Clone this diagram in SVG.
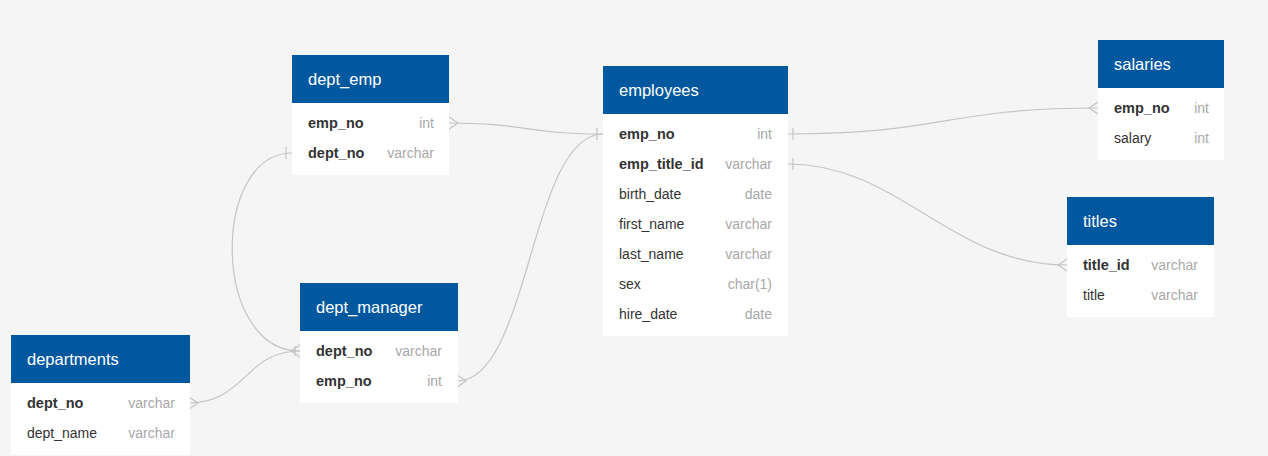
<svg xmlns="http://www.w3.org/2000/svg" width="1268" height="456" viewBox="0 0 1268 456">
<style>
.bg{fill:#f5f5f5}
.hd{fill:#02589e}
.bd{fill:#ffffff}
.tt{font-family:"Liberation Sans",Arial,sans-serif;font-size:16.5px;fill:#ffffff}
.f{font-family:"Liberation Sans",Arial,sans-serif;font-size:14px;fill:#333333}
.k{font-weight:bold;font-size:14.5px}
.ty{font-family:"Liberation Sans",Arial,sans-serif;font-size:14px;fill:#a8a8a8;text-anchor:end}
.c{fill:none;stroke:#c4c4c4;stroke-width:1.2}
</style>
<rect class="bg" x="0" y="0" width="1268" height="456"/>
<g id="connectors">
<path class="c" d="M449,123 C525,123 525,134 603,134"/>
<path class="c" d="M449,117 L458,123 L449,129"/>
<path class="c" d="M597,128 V140"/>
<path class="c" d="M292,153 C211,153 211,351 300,351"/>
<path class="c" d="M286,147 V159"/>
<path class="c" d="M300,345 L291,351 L300,357"/>
<path class="c" d="M295,346 V356"/>
<path class="c" d="M189,403 C245,403 245,351 300,351"/>
<path class="c" d="M189,397 L198,403 L189,409"/>
<path class="c" d="M457,381 C530,381 530,134 603,134"/>
<path class="c" d="M457,375 L466,381 L457,387"/>
<path class="c" d="M788,134 C945,134 945,108 1098,108"/>
<path class="c" d="M793,128 V140"/>
<path class="c" d="M1098,102 L1089,108 L1098,114"/>
<path class="c" d="M788,164 C900,164 950,265 1067,265"/>
<path class="c" d="M793,158 V170"/>
<path class="c" d="M1067,259 L1058,265 L1067,271"/>
</g>
<g id="dept_emp">
<rect class="bd" x="292" y="55" width="157" height="120"/>
<rect class="hd" x="292" y="55" width="157" height="48"/>
<text class="tt" x="308" y="85">dept_emp</text>
<text class="f k" x="308" y="128">emp_no</text><text class="ty" x="434" y="128">int</text>
<text class="f k" x="308" y="158">dept_no</text><text class="ty" x="434" y="158">varchar</text>
</g>
<g id="employees">
<rect class="bd" x="603" y="66" width="185" height="270"/>
<rect class="hd" x="603" y="66" width="185" height="48"/>
<text class="tt" x="619" y="96">employees</text>
<text class="f k" x="619" y="139">emp_no</text><text class="ty" x="772" y="139">int</text>
<text class="f k" x="619" y="169">emp_title_id</text><text class="ty" x="772" y="169">varchar</text>
<text class="f" x="619" y="199">birth_date</text><text class="ty" x="772" y="199">date</text>
<text class="f" x="619" y="229">first_name</text><text class="ty" x="772" y="229">varchar</text>
<text class="f" x="619" y="259">last_name</text><text class="ty" x="772" y="259">varchar</text>
<text class="f" x="619" y="289">sex</text><text class="ty" x="772" y="289">char(1)</text>
<text class="f" x="619" y="319">hire_date</text><text class="ty" x="772" y="319">date</text>
</g>
<g id="salaries">
<rect class="bd" x="1098" y="40" width="126" height="120"/>
<rect class="hd" x="1098" y="40" width="126" height="48"/>
<text class="tt" x="1114" y="70">salaries</text>
<text class="f k" x="1114" y="113">emp_no</text><text class="ty" x="1209" y="113">int</text>
<text class="f" x="1114" y="143">salary</text><text class="ty" x="1209" y="143">int</text>
</g>
<g id="titles">
<rect class="bd" x="1067" y="197" width="147" height="120"/>
<rect class="hd" x="1067" y="197" width="147" height="48"/>
<text class="tt" x="1083" y="227">titles</text>
<text class="f k" x="1083" y="270">title_id</text><text class="ty" x="1198" y="270">varchar</text>
<text class="f" x="1083" y="300">title</text><text class="ty" x="1198" y="300">varchar</text>
</g>
<g id="dept_manager">
<rect class="bd" x="300" y="283" width="158" height="120"/>
<rect class="hd" x="300" y="283" width="158" height="48"/>
<text class="tt" x="316" y="313">dept_manager</text>
<text class="f k" x="316" y="356">dept_no</text><text class="ty" x="442" y="356">varchar</text>
<text class="f k" x="316" y="386">emp_no</text><text class="ty" x="442" y="386">int</text>
</g>
<g id="departments">
<rect class="bd" x="11" y="335" width="179" height="120"/>
<rect class="hd" x="11" y="335" width="179" height="48"/>
<text class="tt" x="27" y="365">departments</text>
<text class="f k" x="27" y="408">dept_no</text><text class="ty" x="175" y="408">varchar</text>
<text class="f" x="27" y="438">dept_name</text><text class="ty" x="175" y="438">varchar</text>
</g>
</svg>
